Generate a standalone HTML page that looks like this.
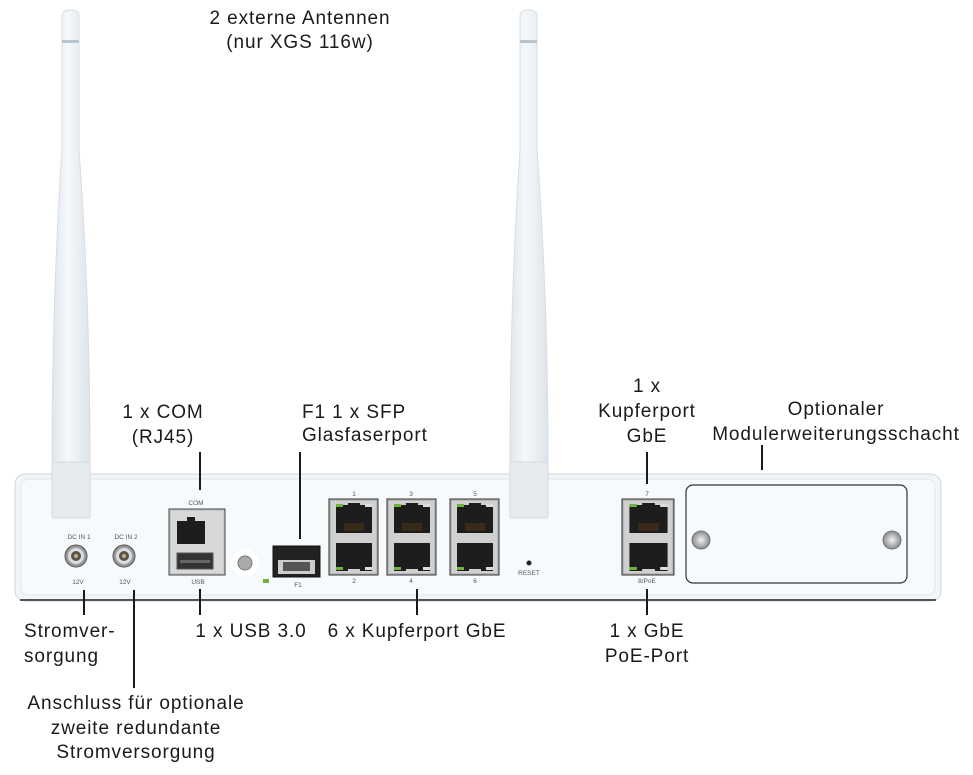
<!DOCTYPE html>
<html><head><meta charset="utf-8"><style>
html,body{margin:0;padding:0;background:#fff;}
svg{display:block;}
text{font-family:"Liberation Sans",sans-serif;fill:#1a1a1a;}
.l{font-size:19px;letter-spacing:0.9px;}
.s{font-size:6.5px;fill:#555;}
</style></head><body>
<svg width="973" height="775" viewBox="0 0 973 775" xmlns="http://www.w3.org/2000/svg">
<defs>
<linearGradient id="ant" x1="0" x2="1"><stop offset="0" stop-color="#dfe6ec"/><stop offset="0.4" stop-color="#f5f8fa"/><stop offset="1" stop-color="#dde4ea"/></linearGradient>
<radialGradient id="scr"><stop offset="0" stop-color="#f4f4f4"/><stop offset="1" stop-color="#8a8a8a"/></radialGradient>
<g id="rj">
<rect x="0" y="0" width="49" height="76" fill="#b8b8b8" stroke="#333" stroke-width="1"/>
<rect x="2" y="2" width="45" height="72" fill="#d0d0d0"/>
<path d="M7 6h12v-2h12v2h12v28h-36z" fill="#1d1d1d"/>
<path d="M7 44h36v28h-12v-2h-12v2h-12z" fill="#1d1d1d"/>
<rect x="7" y="5" width="7" height="3" fill="#6fb33a"/><rect x="36" y="5" width="7" height="3" fill="#ddd"/>
<rect x="7" y="68" width="7" height="3" fill="#6fb33a"/><rect x="36" y="68" width="7" height="3" fill="#ddd"/>
<rect x="15" y="24" width="20" height="8" fill="#3a2a1a"/>
</g>
<g id="dc">
<circle r="11" fill="#9a9a9a" stroke="#555" stroke-width="1"/>
<circle r="8" fill="#ddd"/><circle r="5" fill="#555"/><circle r="2" fill="#c8b070"/>
</g>
</defs>

<g>
<path d="M62 16 Q62 10 70.5 10 Q79 10 79 16 L79 150 Q90 300 90 462 L52 462 Q52 300 62 150 Z" fill="url(#ant)" stroke="#d6dde3"/>
<rect x="62" y="40" width="17" height="3" fill="#b9c4cc"/>
<path d="M520 16 Q520 10 528.5 10 Q537 10 537 16 L537 150 Q548 300 548 462 L510 462 Q510 300 520 150 Z" fill="url(#ant)" stroke="#d6dde3"/>
<rect x="520" y="40" width="17" height="3" fill="#b9c4cc"/>
</g>

<rect x="15" y="474" width="926" height="127" rx="10" fill="#f0f5f9" stroke="#cfd7de"/>
<rect x="21" y="479" width="914" height="116" rx="8" fill="#f6fafd" stroke="#e0e7ec"/>
<line x1="20" y1="600" x2="936" y2="600" stroke="#555" stroke-width="2"/>
<rect x="52" y="462" width="38" height="56" rx="2" fill="#e6ebef" stroke="#d3dae0"/>
<rect x="510" y="462" width="38" height="56" rx="2" fill="#e6ebef" stroke="#d3dae0"/>

<text class="s" x="79" y="539" text-anchor="middle">DC IN 1</text>
<text class="s" x="126" y="539" text-anchor="middle">DC IN 2</text>
<use href="#dc" x="76" y="556"/>
<use href="#dc" x="124" y="556"/>
<text class="s" x="78" y="584" text-anchor="middle">12V</text>
<text class="s" x="125" y="584" text-anchor="middle">12V</text>

<text class="s" x="196" y="505" text-anchor="middle">COM</text>
<rect x="169" y="509" width="56" height="66" fill="#c7c7c7" stroke="#444"/>
<rect x="171" y="511" width="52" height="62" fill="#d8d8d8"/>
<path d="M177 521h10v-4h8v4h10v23h-28z" fill="#1d1d1d"/>
<rect x="177" y="553" width="36" height="16" fill="#333" stroke="#555"/>
<rect x="180" y="560" width="30" height="3" fill="#666"/>
<text class="s" x="198" y="584" text-anchor="middle">USB</text>
<circle cx="245" cy="563" r="14" fill="#fff"/>
<circle cx="245" cy="563" r="7" fill="#aaa" stroke="#777"/>
<rect x="263" y="579" width="6" height="4" fill="#6fb33a"/>

<rect x="273" y="546" width="47" height="31" fill="#222" stroke="#111"/>
<rect x="278" y="560" width="37" height="14" fill="#ccc"/>
<rect x="283" y="562" width="27" height="9" fill="#555"/>
<text class="s" x="298" y="587" text-anchor="middle">F1</text>

<text class="s" x="354" y="496" text-anchor="middle">1</text>
<text class="s" x="411" y="496" text-anchor="middle">3</text>
<text class="s" x="475" y="496" text-anchor="middle">5</text>
<use href="#rj" x="329" y="499"/>
<use href="#rj" x="387" y="499"/>
<use href="#rj" x="450" y="499"/>
<text class="s" x="354" y="583" text-anchor="middle">2</text>
<text class="s" x="411" y="583" text-anchor="middle">4</text>
<text class="s" x="475" y="583" text-anchor="middle">6</text>
<circle cx="529" cy="563" r="2.5" fill="#222"/>
<text class="s" x="529" y="575" text-anchor="middle">RESET</text>

<text class="s" x="647" y="496" text-anchor="middle">7</text>
<use href="#rj" x="622" y="499" transform="translate(622 499) scale(1.06 1) translate(-622 -499)"/>
<text class="s" x="647" y="583" text-anchor="middle">8/PoE</text>

<rect x="686" y="485" width="221" height="98" rx="7" fill="#f7fafd" stroke="#333" stroke-width="1.2"/>
<circle cx="701" cy="540" r="9" fill="url(#scr)" stroke="#777"/>
<circle cx="892" cy="540" r="9" fill="url(#scr)" stroke="#777"/>

<g stroke="#1a1a1a" stroke-width="2">
<line x1="200" y1="452" x2="200" y2="490"/>
<line x1="300" y1="452" x2="300" y2="539"/>
<line x1="647" y1="452" x2="647" y2="484"/>
<line x1="762" y1="445" x2="762" y2="470"/>
<line x1="84" y1="590" x2="84" y2="615"/>
<line x1="134" y1="590" x2="134" y2="688"/>
<line x1="200" y1="589" x2="200" y2="615"/>
<line x1="417" y1="589" x2="417" y2="615"/>
<line x1="647" y1="589" x2="647" y2="615"/>
</g>

<text class="l" x="300" y="24" text-anchor="middle">2 externe Antennen</text>
<text class="l" x="300" y="48" text-anchor="middle">(nur XGS 116w)</text>
<text class="l" x="163" y="418" text-anchor="middle">1 x COM</text>
<text class="l" x="163" y="443" text-anchor="middle">(RJ45)</text>
<text class="l" x="302" y="418">F1 1 x SFP</text>
<text class="l" x="302" y="441">Glasfaserport</text>
<text class="l" x="647" y="392" text-anchor="middle">1 x</text>
<text class="l" x="647" y="417" text-anchor="middle">Kupferport</text>
<text class="l" x="647" y="442" text-anchor="middle">GbE</text>
<text class="l" x="836" y="415" text-anchor="middle">Optionaler</text>
<text class="l" x="836" y="440" text-anchor="middle">Modulerweiterungsschacht</text>
<text class="l" x="24" y="637">Stromver-</text>
<text class="l" x="24" y="662">sorgung</text>
<text class="l" x="251" y="637" text-anchor="middle">1 x USB 3.0</text>
<text class="l" x="417" y="637" text-anchor="middle">6 x Kupferport GbE</text>
<text class="l" x="647" y="637" text-anchor="middle">1 x GbE</text>
<text class="l" x="647" y="662" text-anchor="middle">PoE-Port</text>
<text class="l" x="136" y="709" text-anchor="middle">Anschluss für optionale</text>
<text class="l" x="136" y="734" text-anchor="middle">zweite redundante</text>
<text class="l" x="136" y="758" text-anchor="middle">Stromversorgung</text>
</svg>
</body></html>
